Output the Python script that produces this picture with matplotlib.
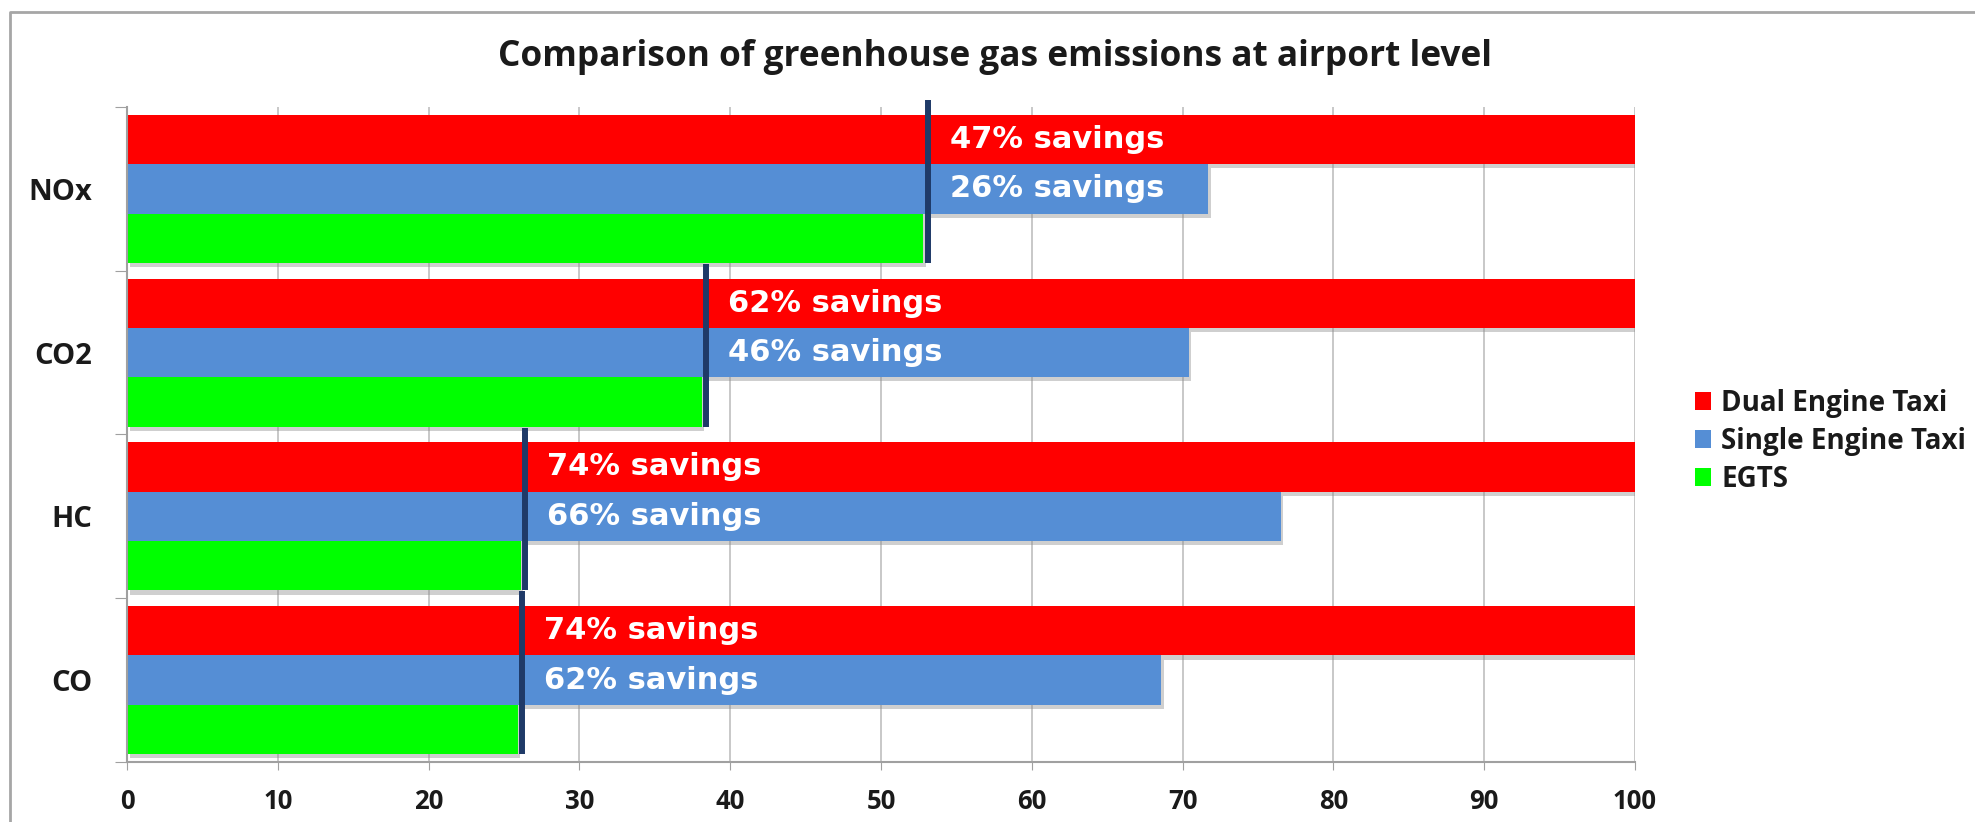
import matplotlib
matplotlib.use("Agg")
import matplotlib.pyplot as plt
import matplotlib.patheffects as pe
from matplotlib.patches import Patch
from matplotlib.lines import Line2D
import numpy as np

# ---- data ----
categories = ["NOx", "CO2", "HC", "CO"]
series_names = ["Dual Engine Taxi", "Single Engine Taxi", "EGTS"]
dual = [100, 100, 100, 100]
single = [71.7, 70.4, 76.5, 68.6]
egts = [52.8, 38.1, 26.1, 25.9]
dual_savings = [47, 62, 74, 74]
single_savings = [26, 46, 66, 62]
xticks = [0, 10, 20, 30, 40, 50, 60, 70, 80, 90, 100]
title = "Comparison of greenhouse gas emissions at airport level"

colors = ["#FF0000", "#558ED5", "#00FF00"]
navy = "#1F3A68"
W, H = 1975, 822
fig = plt.figure(figsize=(W / 100, H / 100), dpi=100)
fig.patch.set_facecolor("white")

L, R, T, B = 127, 1635, 107, 762
ax = fig.add_axes([L / W, 1 - B / H, (R - L) / W, (B - T) / H])

y = np.arange(len(categories))
h = 0.3017
shadow = [pe.SimplePatchShadow(offset=(2, -3), shadow_rgbFace="#888888", alpha=0.4), pe.Normal()]
for vals, off, c in zip([dual, single, egts], [-h, 0, h], colors):
    bars = ax.barh(y + off, vals, height=h, color=c, linewidth=0, zorder=3)
    for b in bars:
        b.set_path_effects(shadow)

ax.set_xlim(0, 100)
ax.set_ylim(len(categories) - 0.5, -0.5)

# savings markers
for i in range(len(categories)):
    lx = egts[i] + 0.3
    ax.plot([lx, lx], [y[i] + 1.5 * h, y[i] - 1.5 * h - 0.09], color=navy, lw=4.3,
            solid_capstyle="butt", zorder=5, clip_on=False)
    for txt, off in [(f"{dual_savings[i]}% savings", -h), (f"{single_savings[i]}% savings", 0)]:
        ax.annotate(txt, xy=(lx, y[i] + off), xytext=(16, 0), textcoords="offset points",
                    ha="left", va="center", color="white", fontsize=22,
                    fontweight="bold", family="DejaVu Sans", zorder=6)

# grid & spines
ax.set_xticks(xticks)
ax.set_xticklabels([str(t) for t in xticks])
ax.xaxis.grid(True, color="#BFBFBF", lw=1.2, zorder=0)
ax.set_axisbelow(True)
for s in ["top", "right"]:
    ax.spines[s].set_visible(False)
for s in ["left", "bottom"]:
    ax.spines[s].set_color("#A0A0A0")
    ax.spines[s].set_linewidth(1.5)
    ax.spines[s].set_zorder(4)
ax.tick_params(axis="x", direction="out", length=6, color="#A0A0A0", pad=13,
               labelsize=18.5)
for lab in ax.get_xticklabels():
    lab.set_fontfamily("Open Sans")
    lab.set_fontweight("bold")
    lab.set_color("#1a1a1a")

ax.set_yticks(np.arange(len(categories) + 1) - 0.5)
ax.set_yticklabels([])
ax.tick_params(axis="y", which="major", direction="out", length=9, color="#A0A0A0")
ax.set_yticks(y, minor=True)
ax.set_yticklabels(categories, minor=True)
ax.tick_params(axis="y", which="minor", length=0, pad=25, labelsize=21)
for lab in ax.get_yticklabels(minor=True):
    lab.set_fontfamily("Open Sans")
    lab.set_fontweight("bold")
    lab.set_color("#1a1a1a")

# title
t = fig.text(995 / W, 1 - 57 / H, title, ha="center", va="center",
             fontsize=22, fontweight="bold", family="Open Sans", color="#1a1a1a")
fig.canvas.draw()
r = fig.canvas.get_renderer()
w = t.get_window_extent(r).width
t.set_fontsize(22 * 991 / w)

# legend
handles = [Patch(facecolor=c, edgecolor="none") for c in colors]
leg = fig.legend(handles, series_names, loc="upper right",
                 bbox_to_anchor=(1966 / W, 1 - 389 / H), frameon=False,
                 handlelength=0.6, handleheight=0.6, handletextpad=0.35,
                 labelspacing=0.32, borderaxespad=0, borderpad=0,
                 prop={"family": "Open Sans", "weight": "bold", "size": 20})
for tx in leg.get_texts():
    tx.set_color("#1a1a1a")

# outer border (left & top)
fig.add_artist(Line2D([10 / W, 10 / W, 1], [0, 1 - 12 / H, 1 - 12 / H],
                      transform=fig.transFigure, color="#A6A6A6", lw=2))

fig.savefig("out.png", dpi=100, facecolor="white")
